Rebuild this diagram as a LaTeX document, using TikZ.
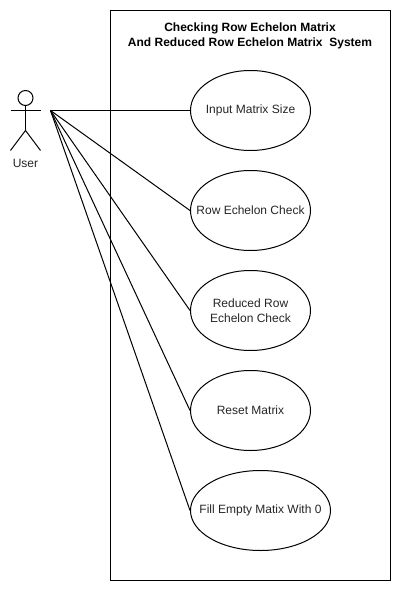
\documentclass[tikz,border=0pt]{standalone}
\usepackage{fontspec}
\setmainfont{Liberation Sans}
\usetikzlibrary{shapes.geometric}
\tikzset{
  usecase/.style={draw=black,fill=white,ellipse,minimum width=90pt,minimum height=60pt,inner sep=0pt,line width=0.75pt},
  uclabel/.style={label={[align=center,font=\fontsize{9}{11.25}\selectfont,inner sep=0pt,text=black!85]center:#1}},
  conn/.style={draw=black,line width=0.75pt},
  sysbox/.style={draw=black,fill=white,line width=0.75pt}
}
\begin{document}
\begin{tikzpicture}[x=0.75pt,y=-0.75pt]
\useasboundingbox (0,0) rectangle (401,591);
\fill[white] (0,0) rectangle (401,591);
\node[sysbox,minimum width=210pt,minimum height=427.5pt,inner sep=0pt] (sys) at (250.5,295.5) {};
\coordinate (actor) at (50.5,110.5);
\node[font=\fontsize{9}{11.25}\selectfont\bfseries,align=center] (title) at (250,35.5) {Checking Row Echelon Matrix\\And Reduced Row Echelon Matrix\ \ System};
\node[usecase,uclabel={Input Matrix Size}] (a) at (250.5,110.5) {};
\node[usecase,uclabel={Row Echelon Check}] (b) at (250.5,210.5) {};
\node[usecase,uclabel={Reduced Row\\Echelon Check}] (c) at (250.5,310.5) {};
\node[usecase,uclabel={Reset Matrix}] (d) at (250.5,410.5) {};
\node[usecase,minimum width=105pt,uclabel={Fill Empty Matix With 0}] (e) at (260.5,510.5) {};
\draw[conn] (actor) -- (a.west);
\draw[conn] (actor) -- (b.west);
\draw[conn] (actor) -- (c.west);
\draw[conn] (actor) -- (d.west);
\draw[conn] (actor) -- (e.west);
\draw[conn] (25.5,98) circle (7.5);
\draw[conn] (25.5,105.5) -- (25.5,130.5);
\draw[conn] (10.5,110.5) -- (40.5,110.5);
\draw[conn] (10.5,150.5) -- (25.5,130.5) -- (40.5,150.5);
\node[font=\fontsize{9}{11.25}\selectfont,text=black!85] (user) at (25.5,163) {User};
\end{tikzpicture}
\end{document}
